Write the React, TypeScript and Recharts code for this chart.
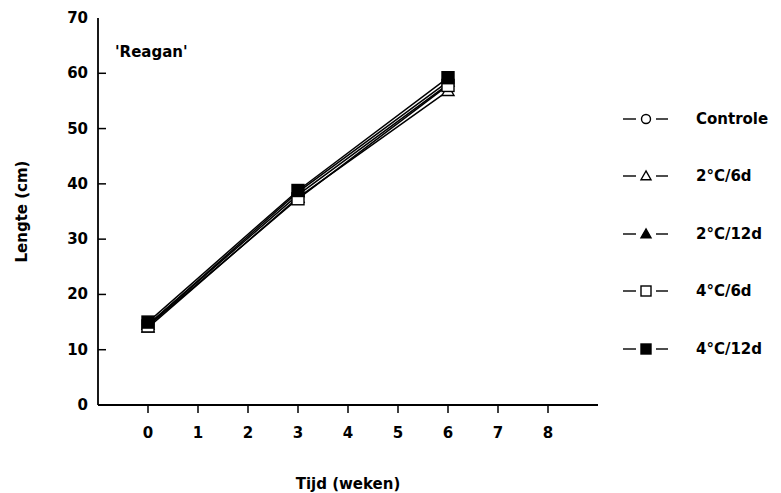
import { LineChart, Line, XAxis, YAxis } from "recharts";

// weeks after treatment
const weeks = [0, 3, 6];
const seriesNames = ["Controle", "2°C/6d", "2°C/12d", "4°C/6d", "4°C/12d"];
const controle = [14.5, 38.0, 58.0];
const c2d6 = [14.0, 37.5, 56.8];
const c2d12 = [14.5, 38.5, 58.5];
const c4d6 = [14.3, 37.3, 57.8];
const c4d12 = [15.0, 38.8, 59.2];
const xTicks = [0, 1, 2, 3, 4, 5, 6, 7, 8];
const yTicks = [0, 10, 20, 30, 40, 50, 60, 70];

const keys = ["s0", "s1", "s2", "s3", "s4"];
const values = [controle, c2d6, c2d12, c4d6, c4d12];
const data = weeks.map((w, i) => {
  const row: Record<string, number> = { week: w };
  keys.forEach((k, j) => (row[k] = values[j][i]));
  return row;
});

const FONT = "'DejaVu Sans', 'Liberation Sans', sans-serif";
const FS = 15;
type Shape = "circle" | "triangle" | "square";
const shapes: { shape: Shape; filled: boolean }[] = [
  { shape: "circle", filled: false },
  { shape: "triangle", filled: false },
  { shape: "triangle", filled: true },
  { shape: "square", filled: false },
  { shape: "square", filled: true },
];

function Marker({ cx, cy, shape, filled, r = 6 }: { cx: number; cy: number; shape: Shape; filled: boolean; r?: number }) {
  const fill = filled ? "#000" : "#fff";
  if (shape === "circle") return <circle cx={cx} cy={cy} r={r - 0.5} fill={fill} stroke="#000" strokeWidth={1.4} />;
  if (shape === "triangle")
    return (
      <polygon
        points={`${cx},${cy - r} ${cx - r},${cy + r * 0.75} ${cx + r},${cy + r * 0.75}`}
        fill={fill}
        stroke="#000"
        strokeWidth={1.4}
      />
    );
  return <rect x={cx - r} y={cy - r} width={r * 2} height={r * 2} fill={fill} stroke="#000" strokeWidth={1.4} />;
}

const makeDot = (idx: number) => (props: any) => {
  const { cx, cy, index } = props;
  return <Marker key={`d${idx}-${index}`} cx={cx} cy={cy} shape={shapes[idx].shape} filled={shapes[idx].filled} />;
};

// label plus an inward tick on the left axis
const YTick = (props: any) => {
  const { x, y, payload } = props;
  return (
    <g>
      {payload.value > 0 && payload.value < 70 && (
        <line x1={x + 10} y1={y} x2={x + 18} y2={y} stroke="#000" strokeWidth={1.5} />
      )}
      <text x={x} y={y} dy={5} textAnchor="end" fontFamily={FONT} fontWeight="bold" fontSize={FS} fill="#000">
        {payload.value}
      </text>
    </g>
  );
};

// label plus an upward tick on the bottom axis
const XTick = (props: any) => {
  const { x, y, payload } = props;
  return (
    <g>
      <line x1={x} y1={y - 20} x2={x} y2={y - 28} stroke="#000" strokeWidth={1.5} />
      <text x={x} y={y} dy={5} textAnchor="middle" fontFamily={FONT} fontWeight="bold" fontSize={FS} fill="#000">
        {payload.value}
      </text>
    </g>
  );
};

const LegendBox = () => (
  <div style={{ position: "absolute", left: 620, top: 90, fontFamily: FONT, fontWeight: "bold", fontSize: FS }}>
    {seriesNames.map((name, i) => (
      <div key={name} style={{ display: "flex", alignItems: "center", height: 57.5 }}>
        <svg width={58} height={16}>
          <line x1={3} y1={8} x2={16} y2={8} stroke="#000" strokeWidth={1.4} />
          <line x1={36} y1={8} x2={48} y2={8} stroke="#000" strokeWidth={1.4} />
          <Marker cx={26} cy={8} shape={shapes[i].shape} filled={shapes[i].filled} r={5} />
        </svg>
        <span style={{ marginLeft: 18 }}>{name}</span>
      </div>
    ))}
  </div>
);

export default function App() {
  return (
    <div style={{ position: "relative", width: 781, height: 493, background: "#fff" }}>
      <style>{"body{margin:0}"}</style>
      <LineChart width={781} height={493} data={data} margin={{ top: 18, right: 183, bottom: 0, left: 0 }}>
        <XAxis
          xAxisId="frame"
          orientation="top"
          type="number"
          domain={[0, 1]}
          ticks={[]}
          tick={false}
          height={0}
          axisLine={{ stroke: "#000", strokeWidth: 1.8 }}
        />
        <YAxis
          yAxisId="frame"
          orientation="right"
          type="number"
          domain={[0, 1]}
          ticks={[]}
          tick={false}
          width={0}
          axisLine={{ stroke: "#000", strokeWidth: 1.8 }}
        />
        <XAxis
          dataKey="week"
          type="number"
          domain={[-1, 9]}
          ticks={xTicks}
          tick={<XTick />}
          tickLine={false}
          tickSize={0}
          tickMargin={28}
          axisLine={{ stroke: "#000", strokeWidth: 1.8 }}
          height={88}
          label={{ value: "Tijd (weken)", position: "insideBottom", offset: 4, fontFamily: FONT, fontWeight: "bold", fontSize: FS, fill: "#000" }}
        />
        <YAxis
          type="number"
          domain={[0, 70]}
          ticks={yTicks}
          tick={<YTick />}
          tickLine={false}
          tickSize={0}
          tickMargin={10}
          axisLine={{ stroke: "#000", strokeWidth: 1.8 }}
          width={98}
          label={{ value: "Lengte (cm)", angle: -90, position: "insideLeft", offset: 22, fontFamily: FONT, fontWeight: "bold", fontSize: FS, fill: "#000", style: { textAnchor: "middle" } }}
        />
        <text x={115} y={57} fontFamily={FONT} fontWeight="bold" fontSize={FS} fill="#000">
          'Reagan'
        </text>
        {keys.map((k, i) => (
          <Line
            key={k}
            dataKey={k}
            name={seriesNames[i]}
            stroke="#000"
            strokeWidth={1.5}
            dot={makeDot(i)}
            activeDot={false}
            isAnimationActive={false}
          />
        ))}
      </LineChart>
      <LegendBox />
    </div>
  );
}
